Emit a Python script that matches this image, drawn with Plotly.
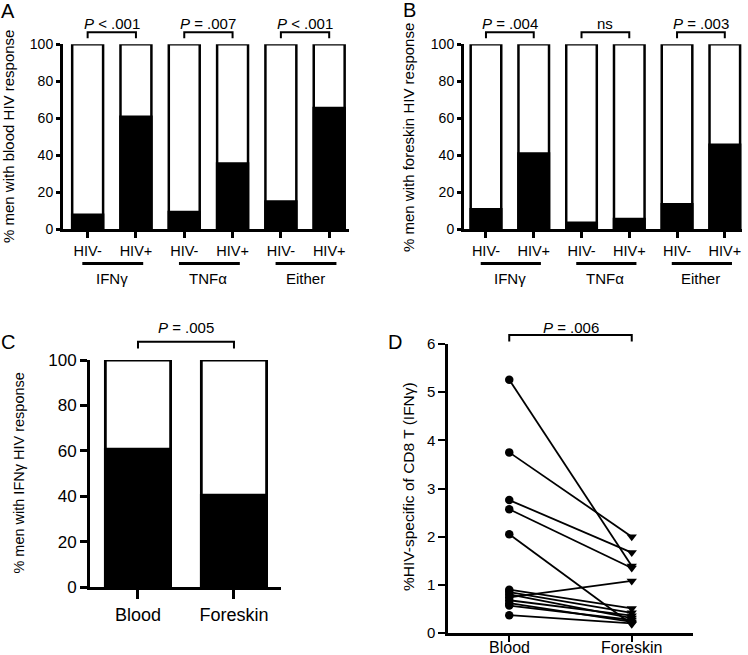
import plotly.graph_objects as go

W, H = 748, 655

# ---------------- data ----------------
cats_ab = ["HIV-", "HIV+", "HIV-", "HIV+", "HIV-", "HIV+"]
groups_ab = ["IFNγ", "TNFα", "Either"]
blood_pct = [7.8, 60.8, 9.4, 35.6, 15.0, 65.6]      # panel A
foreskin_pct = [10.8, 41.0, 3.6, 5.6, 13.6, 45.7]   # panel B
pvals_a = ["<i>P</i> &lt; .001", "<i>P</i> = .007", "<i>P</i> &lt; .001"]
pvals_b = ["<i>P</i> = .004", "ns", "<i>P</i> = .003"]

cats_c = ["Blood", "Foreskin"]
ifng_pct = [60.8, 40.5]                               # panel C
pval_c = "<i>P</i> = .005"

cats_d = ["Blood", "Foreskin"]
d_blood = [5.26, 3.75, 2.76, 2.57, 2.05, 0.90, 0.85, 0.80, 0.74, 0.68, 0.62, 0.57, 0.37]
d_foreskin = [1.39, 2.00, 1.67, 1.35, 0.18, 0.51, 0.42, 0.31, 1.08, 0.36, 0.23, 0.27, 0.20]
pval_d = "<i>P</i> = .006"

FONT = "Arial, Liberation Sans, sans-serif"


def px(x):
    return x / W


def py(y):
    return 1 - y / H


fig = go.Figure()

# ---------------- panels A & B ----------------
panels_ab = [
    dict(x="x", y="y", vals=blood_pct, pv=pvals_a),
    dict(x="x2", y="y2", vals=foreskin_pct, pv=pvals_b),
]
xs6 = list(range(6))
for p in panels_ab:
    fig.add_trace(go.Bar(x=xs6, y=[100] * 6, width=0.64, marker=dict(color="white", line=dict(color="black", width=2.5)),
                         xaxis=p["x"], yaxis=p["y"], showlegend=False, hoverinfo="skip"))
    fig.add_trace(go.Bar(x=xs6, y=p["vals"], width=0.64, marker=dict(color="black", line=dict(color="black", width=2.5)),
                         xaxis=p["x"], yaxis=p["y"], showlegend=False))

# ---------------- panel C ----------------
fig.add_trace(go.Bar(x=[0, 1], y=[100, 100], width=0.68, marker=dict(color="white", line=dict(color="black", width=2.8)),
                     xaxis="x3", yaxis="y3", showlegend=False, hoverinfo="skip"))
fig.add_trace(go.Bar(x=[0, 1], y=ifng_pct, width=0.68, marker=dict(color="black", line=dict(color="black", width=2.8)),
                     xaxis="x3", yaxis="y3", showlegend=False))

# ---------------- panel D ----------------
lx, ly = [], []
for b, f in zip(d_blood, d_foreskin):
    lx += [0, 1, None]
    ly += [b, f, None]
fig.add_trace(go.Scatter(x=lx, y=ly, mode="lines", line=dict(color="black", width=1.8),
                         xaxis="x4", yaxis="y4", showlegend=False, hoverinfo="skip"))
fig.add_trace(go.Scatter(x=[0] * len(d_blood), y=d_blood, mode="markers",
                         marker=dict(symbol="circle", size=8.5, color="black"),
                         xaxis="x4", yaxis="y4", showlegend=False))
fig.add_trace(go.Scatter(x=[1] * len(d_foreskin), y=d_foreskin, mode="markers",
                         marker=dict(symbol="triangle-down", size=9, color="black"),
                         xaxis="x4", yaxis="y4", showlegend=False))

fig.update_layout(barmode="overlay")

axis_common = dict(showline=True, linecolor="black", showgrid=False, zeroline=False,
                   ticks="outside", tickcolor="black", fixedrange=True, automargin=False)

# axis layout
fig.update_layout(
    xaxis=dict(domain=[px(63), px(349)], range=[-0.51, 5.41], tickvals=xs6, ticktext=cats_ab,
               linewidth=3, tickwidth=2.5, ticklen=6, anchor="y",
               tickfont=dict(size=14.5, family=FONT, color="black"), **axis_common),
    yaxis=dict(domain=[py(229.3), py(44.3)], range=[0, 100], tickvals=[0, 20, 40, 60, 80, 100],
               linewidth=3, tickwidth=2.5, ticklen=4, anchor="x",
               tickfont=dict(size=14, family=FONT, color="black"), **axis_common),
    xaxis2=dict(domain=[px(464), px(742)], range=[-0.46, 5.36], tickvals=xs6, ticktext=cats_ab,
                linewidth=3, tickwidth=2.5, ticklen=6, anchor="y2",
                tickfont=dict(size=14.5, family=FONT, color="black"), **axis_common),
    yaxis2=dict(domain=[py(229.3), py(44.3)], range=[0, 100], tickvals=[0, 20, 40, 60, 80, 100],
                linewidth=3, tickwidth=2.5, ticklen=4, anchor="x2",
                tickfont=dict(size=14, family=FONT, color="black"), **axis_common),
    xaxis3=dict(domain=[px(90), px(281)], range=[-0.5, 1.49], tickvals=[0, 1], ticktext=cats_c,
                linewidth=3, tickwidth=2.8, ticklen=9, anchor="y3",
                tickfont=dict(size=18, family=FONT, color="black"), **axis_common),
    yaxis3=dict(domain=[py(587.3), py(360)], range=[0, 100], tickvals=[0, 20, 40, 60, 80, 100],
                linewidth=3, tickwidth=2.8, ticklen=7, anchor="x3",
                tickfont=dict(size=17, family=FONT, color="black"), **axis_common),
    xaxis4=dict(domain=[px(448), px(693)], range=[-0.5, 1.5], tickvals=[0, 1], showticklabels=False,
                linewidth=2.5, tickwidth=2.2, ticklen=6, anchor="y4", **axis_common),
    yaxis4=dict(domain=[py(633), py(344)], range=[0, 6], tickvals=[0, 1, 2, 3, 4, 5, 6],
                linewidth=2.5, tickwidth=2.2, ticklen=7, anchor="x4",
                tickfont=dict(size=15, family=FONT, color="black"), **axis_common),
)

annotations = []
shapes = []


def bracket(xref, xa, xb, ytop, ybot, width=2):
    path = f"M {xa},{py(ybot)} L {xa},{py(ytop)} L {xb},{py(ytop)} L {xb},{py(ybot)}"
    shapes.append(dict(type="path", path=path, xref=xref, yref="paper",
                       line=dict(color="black", width=width)))


def text(x, y, s, size, xref="paper", angle=0):
    annotations.append(dict(x=x, y=y, xref=xref, yref="paper", text=s, showarrow=False,
                            xanchor="center", yanchor="middle", textangle=angle,
                            font=dict(size=size, family=FONT, color="black")))


# brackets, p values, group lines/labels for A and B
for xref, pv in (("x", pvals_a), ("x2", pvals_b)):
    for g in range(3):
        a, b = 2 * g, 2 * g + 1
        bracket(xref, a, b, 32.3, 38.3)
        text((a + b) / 2, py(23), pv[g], 15, xref=xref)
        shapes.append(dict(type="line", xref=xref, yref="paper", x0=a - 0.11, x1=b + 0.15,
                           y0=py(263.5), y1=py(263.5), line=dict(color="black", width=3)))
        text((a + b) / 2, py(278), groups_ab[g], 15, xref=xref)

# C bracket
bracket("x3", 0, 1, 341.7, 348.5)
text(0.5, py(327), pval_c, 15, xref="x3")
# D bracket and category labels
bracket("x4", 0, 1, 335, 341.5)
text(0.5, py(327), pval_d, 15, xref="x4")
for i, c in enumerate(cats_d):
    text(i, py(647), c, 16, xref="x4")

# axis titles
text(px(8), py(137), "% men with blood HIV response", 15, angle=-90)
text(px(408), py(137), "% men with foreskin HIV response", 15, angle=-90)
text(px(19), py(473.6), "% men with IFNγ HIV response", 14.5, angle=-90)
text(px(408), py(486), "%HIV-specific of CD8 T (IFNγ)", 15.5, angle=-90)

# panel letters
text(px(8), py(11), "A", 20)
text(px(409), py(10), "B", 20)
text(px(8), py(342), "C", 20)
text(px(395), py(342), "D", 20)

fig.update_layout(
    annotations=annotations,
    shapes=shapes,
    width=W, height=H, autosize=False,
    margin=dict(l=0, r=0, t=0, b=0),
    plot_bgcolor="white", paper_bgcolor="white",
    font=dict(family=FONT, color="black"),
)

fig.write_html("out.html", config={"displayModeBar": False},
               post_script="document.body.style.margin='0';document.body.style.overflow='hidden';")
